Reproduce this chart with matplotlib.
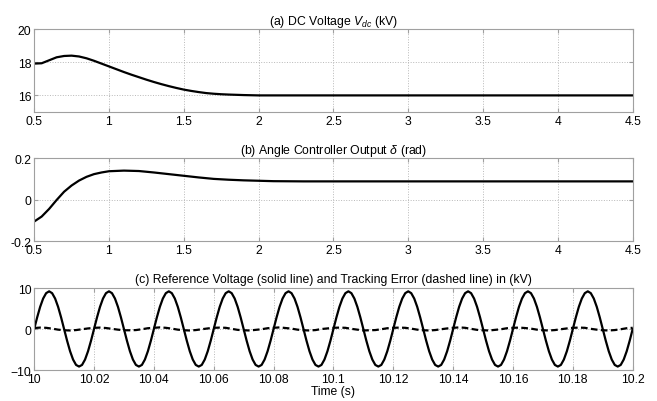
import numpy as np
import matplotlib
matplotlib.use('Agg')
import matplotlib.pyplot as plt

plt.rcParams['font.family'] = ['Liberation Sans', 'DejaVu Sans']
plt.rcParams['mathtext.fontset'] = 'custom'
plt.rcParams['mathtext.it'] = 'Liberation Sans:italic'
plt.rcParams['mathtext.rm'] = 'Liberation Sans'

# (a) DC voltage (kV)
t_dc = [0.5, 0.55, 0.6, 0.65, 0.7, 0.75, 0.8, 0.85, 0.9, 0.95, 1.0, 1.05, 1.1, 1.15,
        1.2, 1.25, 1.3, 1.35, 1.4, 1.45, 1.5, 1.55, 1.6, 1.65, 1.7, 1.75, 1.8, 1.9,
        2.0, 2.2, 2.5, 3.0, 3.5, 4.0, 4.5]
v_dc = [17.92, 17.94, 18.12, 18.3, 18.38, 18.4, 18.35, 18.24, 18.09, 17.92, 17.75, 17.58,
        17.41, 17.25, 17.1, 16.95, 16.81, 16.68, 16.56, 16.45, 16.35, 16.27, 16.2, 16.14,
        16.1, 16.07, 16.05, 16.02, 16.0, 16.0, 16.0, 16.0, 16.0, 16.0, 16.0]

# (b) angle controller output (rad)
t_ang = [0.5, 0.55, 0.6, 0.65, 0.7, 0.75, 0.8, 0.85, 0.9, 0.95, 1.0, 1.1, 1.2, 1.3,
         1.4, 1.5, 1.6, 1.7, 1.8, 1.9, 2.0, 2.1, 2.3, 2.6, 3.0, 3.5, 4.0, 4.5]
delta = [-0.106, -0.082, -0.045, -0.002, 0.038, 0.068, 0.092, 0.11, 0.123, 0.131, 0.137,
         0.14, 0.138, 0.131, 0.123, 0.115, 0.107, 0.1, 0.096, 0.093, 0.091, 0.089, 0.088,
         0.088, 0.088, 0.088, 0.088, 0.088]

# (c) reference voltage, 1 ms samples from 10.0 s
t_ref = np.round(np.arange(10.0, 10.2005, 0.001), 4)
v_ref = [
    0, 2.84, 5.41, 7.44, 8.75, 9.2, 8.75, 7.44, 5.41, 2.84, 0, -2.84, -5.41, -7.44, -8.75, -9.15, -8.75, -7.44, -5.41, -2.84,
    0, 2.84, 5.41, 7.44, 8.75, 9.2, 8.75, 7.44, 5.41, 2.84, 0, -2.84, -5.41, -7.44, -8.75, -9.15, -8.75, -7.44, -5.41, -2.84,
    0, 2.84, 5.41, 7.44, 8.75, 9.2, 8.75, 7.44, 5.41, 2.84, 0, -2.84, -5.41, -7.44, -8.75, -9.15, -8.75, -7.44, -5.41, -2.84,
    0, 2.84, 5.41, 7.44, 8.75, 9.2, 8.75, 7.44, 5.41, 2.84, 0, -2.84, -5.41, -7.44, -8.75, -9.15, -8.75, -7.44, -5.41, -2.84,
    0, 2.84, 5.41, 7.44, 8.75, 9.2, 8.75, 7.44, 5.41, 2.84, 0, -2.84, -5.41, -7.44, -8.75, -9.15, -8.75, -7.44, -5.41, -2.84,
    0, 2.84, 5.41, 7.44, 8.75, 9.2, 8.75, 7.44, 5.41, 2.84, 0, -2.84, -5.41, -7.44, -8.75, -9.15, -8.75, -7.44, -5.41, -2.84,
    0, 2.84, 5.41, 7.44, 8.75, 9.2, 8.75, 7.44, 5.41, 2.84, 0, -2.84, -5.41, -7.44, -8.75, -9.15, -8.75, -7.44, -5.41, -2.84,
    0, 2.84, 5.41, 7.44, 8.75, 9.2, 8.75, 7.44, 5.41, 2.84, 0, -2.84, -5.41, -7.44, -8.75, -9.15, -8.75, -7.44, -5.41, -2.84,
    0, 2.84, 5.41, 7.44, 8.75, 9.2, 8.75, 7.44, 5.41, 2.84, 0, -2.84, -5.41, -7.44, -8.75, -9.15, -8.75, -7.44, -5.41, -2.84,
    0, 2.84, 5.41, 7.44, 8.75, 9.2, 8.75, 7.44, 5.41, 2.84, 0, -2.84, -5.41, -7.44, -8.75, -9.15, -8.75, -7.44, -5.41, -2.84,
    0]

# tracking error, 2 ms samples
t_err = np.round(np.arange(10.0, 10.2005, 0.002), 4)
err = [
    0.25, 0.35, 0.3, 0.1, -0.15, -0.3, -0.35, -0.25, -0.05, 0.15,
    0.3, 0.35, 0.25, 0.05, -0.15, -0.3, -0.3, -0.25, -0.05, 0.2,
    0.3, 0.4, 0.3, 0.1, -0.15, -0.3, -0.35, -0.25, -0.05, 0.15,
    0.3, 0.35, 0.3, 0.05, -0.2, -0.3, -0.35, -0.2, -0.05, 0.2,
    0.3, 0.4, 0.25, 0.1, -0.15, -0.3, -0.35, -0.25, 0.0, 0.15,
    0.3, 0.35, 0.3, 0.05, -0.15, -0.35, -0.3, -0.25, -0.05, 0.2,
    0.3, 0.35, 0.3, 0.1, -0.15, -0.3, -0.35, -0.25, -0.05, 0.15,
    0.3, 0.4, 0.3, 0.05, -0.2, -0.3, -0.35, -0.2, -0.05, 0.2,
    0.3, 0.35, 0.25, 0.1, -0.15, -0.3, -0.35, -0.25, -0.05, 0.15,
    0.3, 0.35, 0.3, 0.05, -0.15, -0.3, -0.35, -0.25, -0.05, 0.2,
    0.3]

fig = plt.figure(figsize=(6.57, 4.02), dpi=100)
left, width = 0.052, 0.911
ax1 = fig.add_axes([left, 0.719, width, 0.206])
ax2 = fig.add_axes([left, 0.398, width, 0.206])
ax3 = fig.add_axes([left, 0.077, width, 0.204])


def style(ax):
    ax.grid(True, color='#b8b8b8', linestyle=':', linewidth=0.7)
    for s in ax.spines.values():
        s.set_color('#a0a0a0')
        s.set_linewidth(0.8)
    ax.tick_params(direction='in', length=3, color='#a0a0a0', labelsize=8.7, pad=2,
                   top=True, right=True)


ax1.plot(t_dc, v_dc, color='black', linewidth=1.6)
ax1.set_xlim(0.5, 4.5)
ax1.set_ylim(15, 20)
ax1.set_yticks([16, 18, 20])
ax1.set_xticks(np.arange(0.5, 4.51, 0.5))
ax1.set_xticklabels(['0.5', '1', '1.5', '2', '2.5', '3', '3.5', '4', '4.5'])
ax1.set_title(r'(a) DC Voltage $V_{dc}$ (kV)', fontsize=8.8, pad=4)
style(ax1)

ax2.plot(t_ang, delta, color='black', linewidth=1.6)
ax2.set_xlim(0.5, 4.5)
ax2.set_ylim(-0.2, 0.2)
ax2.set_yticks([-0.2, 0, 0.2])
ax2.set_yticklabels(['-0.2', '0', '0.2'])
ax2.set_xticks(np.arange(0.5, 4.51, 0.5))
ax2.set_xticklabels(['0.5', '1', '1.5', '2', '2.5', '3', '3.5', '4', '4.5'])
ax2.set_title(r'(b) Angle Controller Output $\delta$ (rad)', fontsize=8.8, pad=4)
style(ax2)

ax3.plot(t_ref, v_ref, color='black', linewidth=1.6)
ax3.plot(t_err, err, color='black', linewidth=1.6, linestyle=(0, (3, 1.5)))
ax3.set_xlim(10.0, 10.2)
ax3.set_ylim(-10, 10)
ax3.set_yticks([-10, 0, 10])
ax3.set_xticks(np.round(np.arange(10.0, 10.201, 0.02), 2))
ax3.set_xticklabels(['10', '10.02', '10.04', '10.06', '10.08', '10.1', '10.12',
                     '10.14', '10.16', '10.18', '10.2'])
ax3.set_title('(c) Reference Voltage (solid line) and Tracking Error (dashed line) in (kV)',
              fontsize=8.8, pad=4)
ax3.set_xlabel('Time (s)', fontsize=8.7, labelpad=0)
style(ax3)

fig.savefig('out.png', dpi=100)
